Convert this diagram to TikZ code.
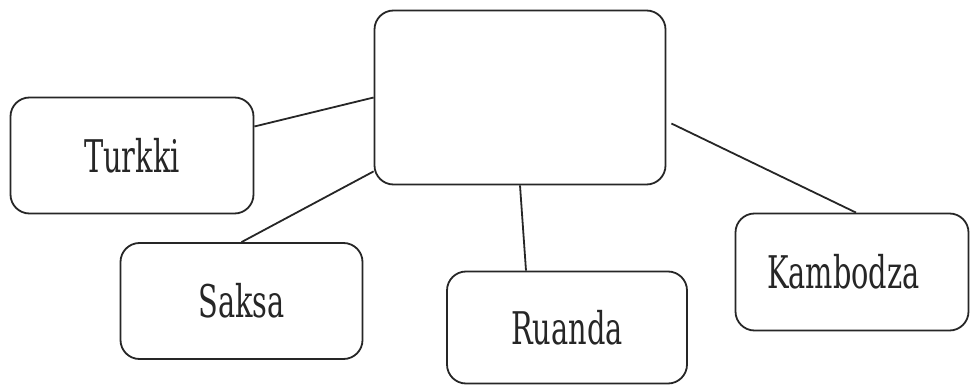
\documentclass[tikz,border=0pt]{standalone}
\usepackage{fontspec}
\usepackage{graphicx}
\setmainfont{DejaVu Serif}
\newcommand{\boxtext}[1]{\scalebox{0.64}[1]{#1}}

\begin{document}
\begin{tikzpicture}[x=1pt,y=-1pt,
        countrybox/.style={draw=black!85, line width=1.8pt, rounded corners=19pt,
            inner sep=0pt, text=black!85,
            font=\fontsize{45}{54}\selectfont},
        link/.style={draw=black!85, line width=1.8pt}
    ]
    \useasboundingbox (0,0) rectangle (971,385);
    % Draw boxes (Vertices/Nodes)
    \node[countrybox, minimum width=291pt, minimum height=174pt] (hub) at (520,97.5) {};
    \node[countrybox, minimum width=243pt, minimum height=116pt] (turkki) at (132,155.5) {\boxtext{Turkki}};
    \node[countrybox, minimum width=242pt, minimum height=116pt] (saksa) at (241.5,301) {\boxtext{Saksa}};
    \node[countrybox, minimum width=240pt, minimum height=112pt] (ruanda) at (567,327.5) {\boxtext{Ruanda}};
    \node[countrybox, minimum width=233pt, minimum height=117pt] (kambodza) at (852,272) {\hspace*{-17pt}\boxtext{Kambodza}};
    % Draw box connects (Edges)
    \draw[link] ([yshift=29pt]turkki.east) -- (hub.west);
    \draw[link] (saksa.north) -- ([yshift=14pt]hub.south west);
    \draw[link] ([xshift=-41pt]ruanda.north) -- (hub.south);
    \draw[link] ([xshift=4pt]kambodza.north) -- ([xshift=5pt,yshift=-26pt]hub.east);
\end{tikzpicture}
\end{document}
